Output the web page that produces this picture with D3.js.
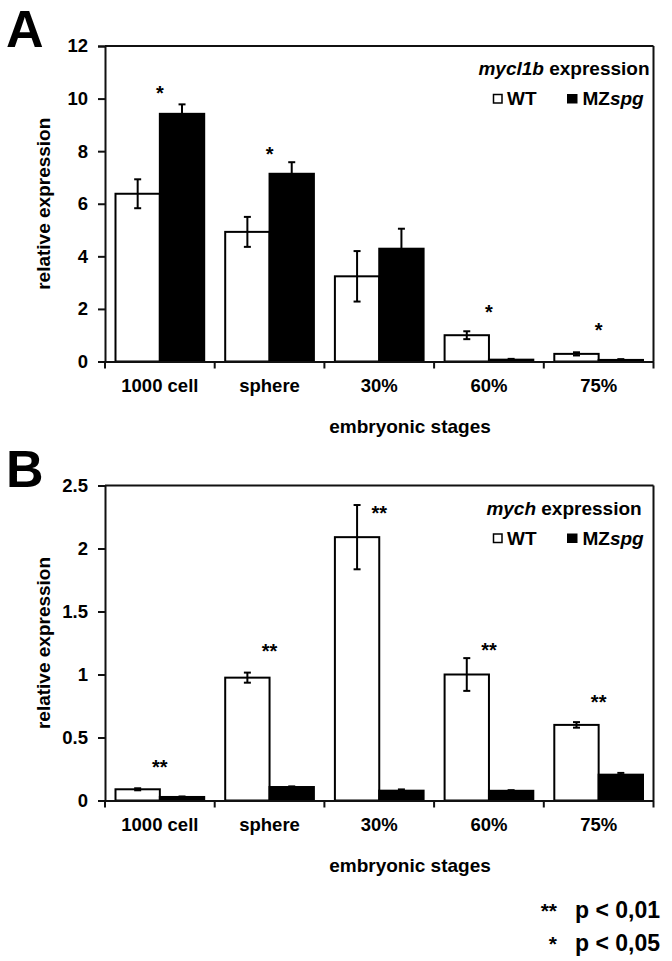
<!DOCTYPE html>
<html>
<head>
<meta charset="utf-8">
<script src="https://cdn.jsdelivr.net/npm/d3@7"></script>
<style>
  html, body { margin: 0; padding: 0; background: #fff; }
  svg { display: block; font-family: "Liberation Sans", Arial, sans-serif; font-weight: bold; }
</style>
</head>
<body>
<svg id="chart" width="672" height="961"></svg>
<script>
// ---- data ----
const stages = ["1000 cell", "sphere", "30%", "60%", "75%"];
const seriesNames = ["WT", "MZspg"];

// Panel A: mycl1b
const wtA = [6.38, 4.93, 3.24, 1.00, 0.29];
const wtAErr = [0.55, 0.57, 0.96, 0.15, 0.06];
const mzA = [9.42, 7.14, 4.29, 0.07, 0.06];
const mzAErr = [0.36, 0.44, 0.76, 0.03, 0.03];
const sigA = ["*", "*", "", "*", "*"];
const sigAPos = [10.38, 8.06, 0, 2.06, 1.39];
const ticksA = [0, 2, 4, 6, 8, 10, 12];
const tickLabelsA = ["0", "2", "4", "6", "8", "10", "12"];

// Panel B: mych
const wtB = [0.089, 0.975, 2.09, 1.00, 0.60];
const wtBErr = [0.008, 0.04, 0.255, 0.13, 0.022];
const mzB = [0.028, 0.107, 0.078, 0.077, 0.205];
const mzBErr = [0.004, 0.005, 0.01, 0.005, 0.014];
const sigB = ["**", "**", "**", "**", "**"];
const sigBPos = [0.305, 1.22, 2.32, 1.23, 0.82];
const ticksB = [0, 0.5, 1, 1.5, 2, 2.5];
const tickLabelsB = ["0", "0.5", "1", "1.5", "2", "2.5"];

const pLegend = [["**", "p < 0,01"], ["*", "p < 0,05"]];

// ---- drawing ----
const svg = d3.select("#chart");
const INK = "#111";

function drawPanel(opt) {
  const g = svg.append("g");
  const x0 = d3.scaleBand().domain(stages).range([105, 653.5]).padding(0);
  const x1 = d3.scaleBand().domain(seriesNames).range([10.5, x0.bandwidth() - 10.5]).padding(0);
  const y = d3.scaleLinear().domain([0, opt.max]).range([opt.bottom, opt.top]);

  // panel letter
  g.append("text").attr("x", 6).attr("y", opt.top + 1)
    .attr("font-size", 52).attr("fill", "#000").text(opt.letter);

  const rows = stages.map((s, i) => ({
    stage: s,
    vals: [
      { name: "WT", v: opt.wt[i], e: opt.wtErr[i], fill: "#fff" },
      { name: "MZspg", v: opt.mz[i], e: opt.mzErr[i], fill: "#000" }
    ],
    sig: opt.sig[i], sigPos: opt.sigPos[i]
  }));

  const grp = g.selectAll("g.grp").data(rows).join("g")
    .attr("transform", d => `translate(${x0(d.stage)},0)`);

  grp.selectAll("rect").data(d => d.vals).join("rect")
    .attr("x", d => x1(d.name))
    .attr("y", d => y(d.v))
    .attr("width", x1.bandwidth())
    .attr("height", d => y(0) - y(d.v))
    .attr("fill", d => d.fill)
    .attr("stroke", "#000").attr("stroke-width", 2);

  // error bars
  const eb = grp.selectAll("g.eb").data(d => d.vals).join("g")
    .attr("stroke", "#000").attr("stroke-width", 2);
  eb.append("line")
    .attr("x1", d => x1(d.name) + x1.bandwidth() / 2)
    .attr("x2", d => x1(d.name) + x1.bandwidth() / 2)
    .attr("y1", d => y(d.v + d.e)).attr("y2", d => y(d.v - d.e));
  [1, -1].forEach(s => {
    eb.append("line")
      .attr("x1", d => x1(d.name) + x1.bandwidth() / 2 - 3.5)
      .attr("x2", d => x1(d.name) + x1.bandwidth() / 2 + 3.5)
      .attr("y1", d => y(d.v + s * d.e)).attr("y2", d => y(d.v + s * d.e));
  });

  // significance stars
  grp.filter(d => d.sig).append("text")
    .attr("x", x0.bandwidth() / 2)
    .attr("y", d => y(d.sigPos))
    .attr("dy", "0.58em")
    .attr("text-anchor", "middle")
    .attr("font-size", 20).attr("fill", "#000")
    .text(d => d.sig);

  // frame: top and right
  g.append("line").attr("x1", 105).attr("x2", 653.5).attr("y1", opt.top).attr("y2", opt.top)
    .attr("stroke", INK).attr("stroke-width", 2);
  g.append("line").attr("x1", 653.5).attr("x2", 653.5).attr("y1", opt.top).attr("y2", opt.bottom)
    .attr("stroke", INK).attr("stroke-width", 2);

  // y axis
  const yAxis = d3.axisLeft(y).tickValues(opt.ticks)
    .tickFormat((d, i) => opt.tickLabels[i]).tickSize(7).tickPadding(10);
  const ya = g.append("g").attr("transform", "translate(105,0)").call(yAxis);
  ya.select(".domain").attr("stroke", INK).attr("stroke-width", 2);
  ya.selectAll(".tick line").attr("stroke", INK).attr("stroke-width", 2);
  ya.selectAll(".tick text").attr("font-size", 18.5).attr("font-family", null)
    .attr("font-weight", "bold").attr("fill", "#000");

  // x axis
  const xAxis = d3.axisBottom(x0).tickSize(0).tickPadding(17);
  const xa = g.append("g").attr("transform", `translate(0,${opt.bottom})`).call(xAxis);
  xa.select(".domain").attr("stroke", INK).attr("stroke-width", 2);
  xa.selectAll(".tick text").attr("font-size", 18.5).attr("font-family", null)
    .attr("font-weight", "bold").attr("fill", "#000");
  // boundary ticks between categories
  const bounds = stages.map(s => x0(s)).concat([x0.range()[1]]);
  xa.selectAll("line.bt").data(bounds).join("line").attr("class", "bt")
    .attr("x1", d => d).attr("x2", d => d).attr("y1", 0).attr("y2", 7)
    .attr("stroke", INK).attr("stroke-width", 2);

  // axis titles
  g.append("text").attr("transform", `translate(50,${(opt.top + opt.bottom) / 2}) rotate(-90)`)
    .attr("text-anchor", "middle").attr("font-size", 19).attr("fill", "#000")
    .text("relative expression");
  g.append("text").attr("x", 410).attr("y", opt.bottom + 71)
    .attr("text-anchor", "middle").attr("font-size", 19).attr("fill", "#000")
    .text("embryonic stages");

  // legend
  const t = g.append("text").attr("x", 564).attr("y", opt.top + 29)
    .attr("text-anchor", "middle").attr("font-size", 19).attr("fill", "#000");
  t.append("tspan").attr("font-style", "italic").text(opt.gene);
  t.append("tspan").text(" expression");

  const ly = opt.top + 59;
  g.append("rect").attr("x", 493.5).attr("y", ly - 10.5).attr("width", 8.5).attr("height", 8.5)
    .attr("fill", "#fff").attr("stroke", "#000").attr("stroke-width", 1.5);
  g.append("text").attr("x", 507).attr("y", ly).attr("font-size", 19).attr("fill", "#000").text("WT");
  g.append("rect").attr("x", 567).attr("y", ly - 11).attr("width", 10.5).attr("height", 9.5)
    .attr("fill", "#000");
  const mt = g.append("text").attr("x", 582.5).attr("y", ly).attr("font-size", 19).attr("fill", "#000");
  mt.append("tspan").text("MZ");
  mt.append("tspan").attr("font-style", "italic").text("spg");
}

drawPanel({ letter: "A", top: 46, bottom: 361.5, max: 12, wt: wtA, wtErr: wtAErr, mz: mzA, mzErr: mzAErr,
  sig: sigA, sigPos: sigAPos, ticks: ticksA, tickLabels: tickLabelsA, gene: "mycl1b" });
drawPanel({ letter: "B", top: 485.5, bottom: 800.5, max: 2.5, wt: wtB, wtErr: wtBErr, mz: mzB, mzErr: mzBErr,
  sig: sigB, sigPos: sigBPos, ticks: ticksB, tickLabels: tickLabelsB, gene: "mych" });

// p-value legend
const pl = svg.append("g");
pLegend.forEach((p, i) => {
  const by = 918 + i * 33;
  pl.append("text").attr("x", 557).attr("y", by).attr("text-anchor", "end")
    .attr("font-size", 21).attr("fill", "#000").text(p[0]);
  pl.append("text").attr("x", 575).attr("y", by)
    .attr("font-size", 23).attr("fill", "#000").text(p[1]);
});
</script>
</body>
</html>
